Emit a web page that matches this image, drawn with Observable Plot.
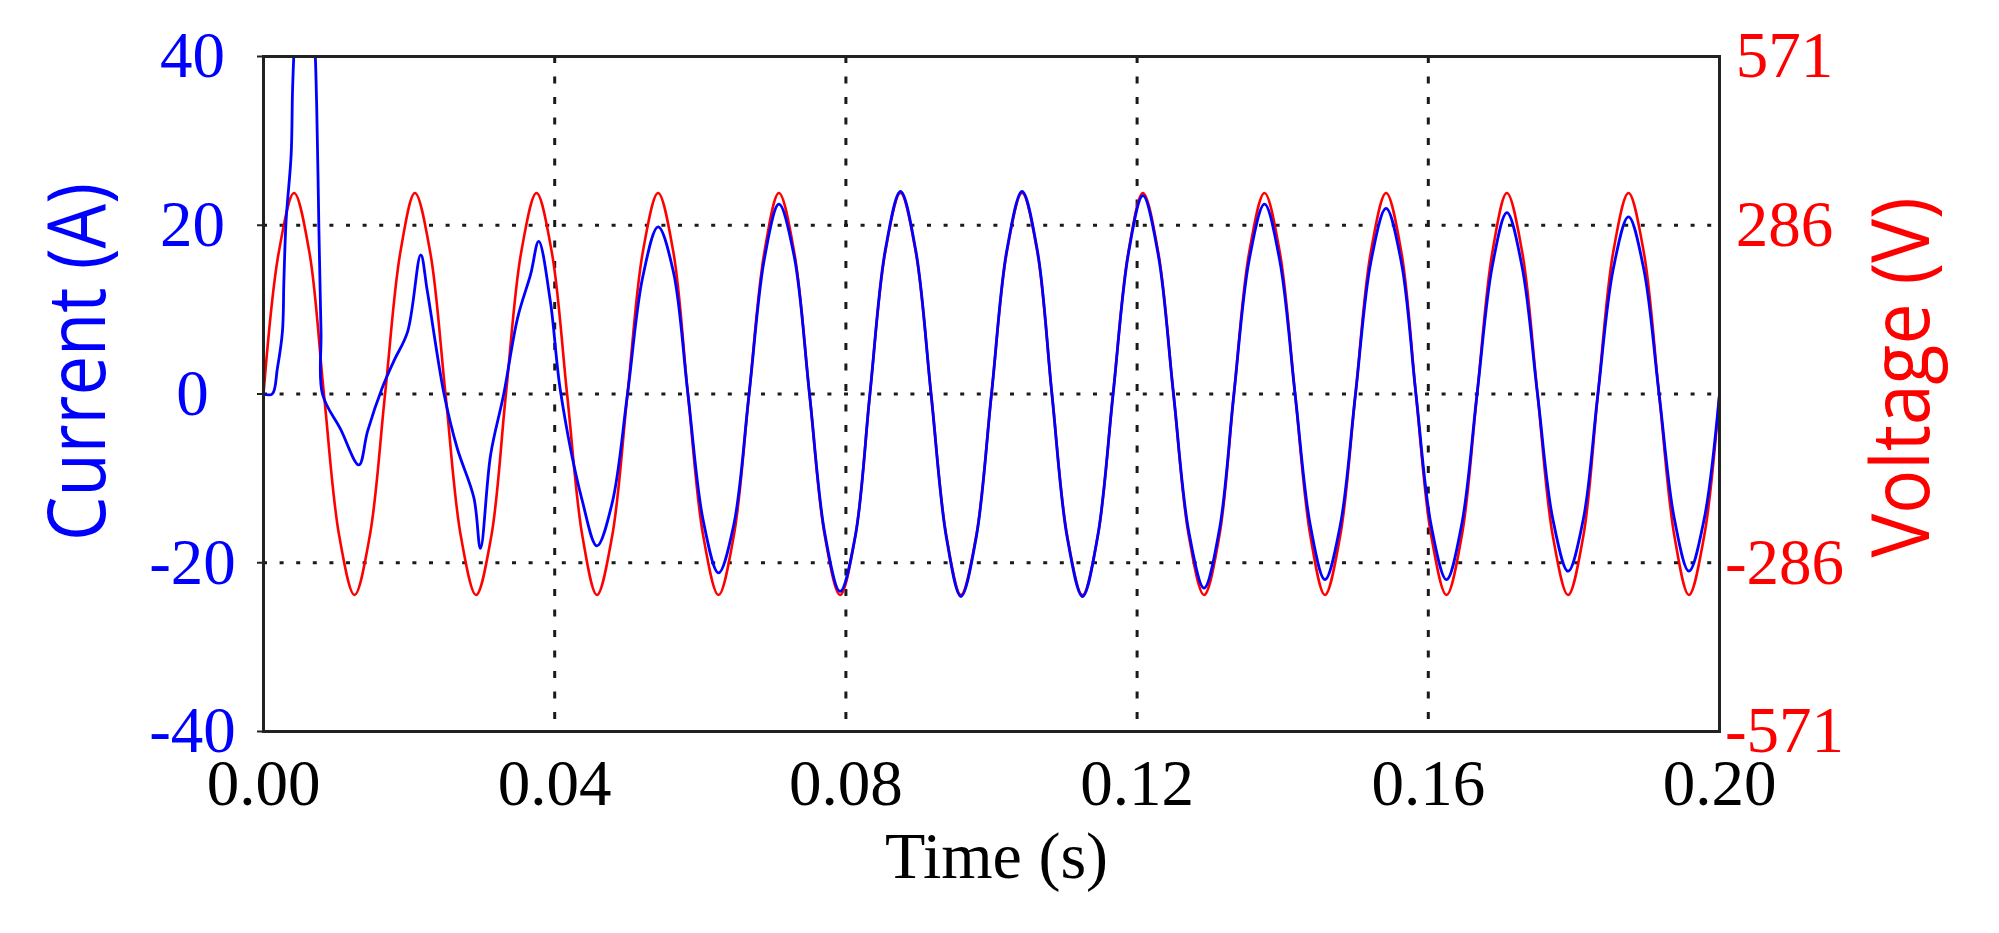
<!DOCTYPE html>
<html><head><meta charset="utf-8">
<script src="https://cdn.jsdelivr.net/npm/d3@7"></script>
<script src="https://cdn.jsdelivr.net/npm/@observablehq/plot@0.6"></script>
<style>body{margin:0;background:#fff}</style>
</head><body><div id="chart"></div>
<script>
// ---- data ----
const timeTicks = [0, 0.04, 0.08, 0.12, 0.16, 0.20];
const timeGrid = [0.04, 0.08, 0.12, 0.16];
const currentTicks = [40, 20, 0, -20, -40];
const currentGrid = [20, 0, -20];
const voltageTicks = [571, 286, -286, -571];
const currentMax = 40;
const voltageMax = 571;

const voltTime = [0.0000,0.0021,0.0042,0.0063,0.0083,0.0104,0.0125,0.0146,0.0167,0.0188,0.0208,0.0229,0.0250,0.0271,0.0292,0.0313,0.0333,0.0354,0.0375,0.0396,0.0417,0.0438,0.0458,0.0479,0.0500,0.0521,0.0542,0.0563,0.0583,0.0604,0.0625,0.0646,0.0667,0.0688,0.0708,0.0729,0.0750,0.0771,0.0792,0.0813,0.0833,0.0854,0.0875,0.0896,0.0917,0.0938,0.0958,0.0979,0.1000,0.1021,0.1042,0.1063,0.1083,0.1104,0.1125,0.1146,0.1167,0.1188,0.1208,0.1229,0.1250,0.1271,0.1292,0.1313,0.1333,0.1354,0.1375,0.1396,0.1417,0.1438,0.1458,0.1479,0.1500,0.1521,0.1542,0.1563,0.1583,0.1604,0.1625,0.1646,0.1667,0.1688,0.1708,0.1729,0.1750,0.1771,0.1792,0.1813,0.1833,0.1854,0.1875,0.1896,0.1917,0.1938,0.1958,0.1979,0.2000];
const voltValue = [0,240,340,240,0,-240,-340,-240, 0,240,340,240,0,-240,-340,-240, 0,240,340,240,0,-240,-340,-240, 0,240,340,240,0,-240,-340,-240, 0,240,340,240,0,-240,-340,-240, 0,240,340,240,0,-240,-340,-240, 0,240,340,240,0,-240,-340,-240, 0,240,340,240,0,-240,-340,-240, 0,240,340,240,0,-240,-340,-240, 0,240,340,240,0,-240,-340,-240, 0,240,340,240,0,-240,-340,-240, 0,240,340,240,0,-240,-340,-240, 0];

const currTime = [0.0000,0.0012,0.0019,0.0026,0.0028,0.0031,0.0038,0.0040,0.0044,0.0056,0.0069,0.0073,0.0076,0.0079,0.0081,0.0106,0.0131,0.0143,0.0163,0.0179,0.0198,0.0216,0.0225,0.0248,0.0266,0.0289,0.0298,0.0312,0.0330,0.0349,0.0367,0.0378,0.0394,0.0408,
0.0438,0.0458,0.0479,0.0500,0.0521,0.0542,0.0563,0.0583,0.0604,0.0625,0.0646,0.0667,0.0688,0.0708,0.0729,0.0750,0.0771,0.0792,0.0813,0.0833,0.0854,0.0875,0.0896,0.0917,0.0938,0.0958,0.0979,0.1000,0.1021,0.1042,0.1063,0.1083,0.1104,0.1125,0.1146,0.1167,0.1188,0.1208,0.1229,0.1250,0.1271,0.1292,0.1313,0.1333,0.1354,0.1375,0.1396,0.1417,0.1438,0.1458,0.1479,0.1500,0.1521,0.1542,0.1563,0.1583,0.1604,0.1625,0.1646,0.1667,0.1688,0.1708,0.1729,0.1750,0.1771,0.1792,0.1813,0.1833,0.1854,0.1875,0.1896,0.1917,0.1938,0.1958,0.1979,0.2000];
const currValue = [0,0,3,7.4,13.4,20.5,28.4,36.3,44,55,44,34.4,20,7.4,0,-4.2,-8.4,-4.4,0.7,3.9,7.4,16.5,12.2,0,-6.4,-12.3,-18.3,-7.2,0,9.0,14.2,18.1,11,0.3,
-12.7,-18,-12.9,0,13.9,19.8,14.5,0,-15,-21.2,-15.5,0,16,22.5,16.3,0,-16.5,-23.4,-16.8,0,17,24,17,0,-17,-24,-17,0,17,24,17,0,-17,-24,-16.8,0,16.6,23.5,16.5,0,-16.3,-23,-16.1,0,15.9,22.5,15.8,0,-15.6,-22,-15.6,0,15.6,22,15.6,0,-15.6,-22,-15.4,0,15.2,21.5,15,0,-14.8,-21,-14.8,0,14.8,21,14.8,0,-14.8,-21,-14.8,0];

// ---- tables ----
const voltData = voltTime.map((t, i) => ({t, v: voltValue[i]}));
const currData = currTime.map((t, i) => ({t, a: currValue[i]}));
const toCurrentUnits = v => v * currentMax / voltageMax;

const BLUE = "#0000ff", RED = "#ff0000";
const hyphen = d => String(d);

const chart = Plot.plot({
  width: 1999,
  height: 933,
  marginLeft: 263,
  marginRight: 280,
  marginTop: 56,
  marginBottom: 202,
  style: {background: "white", fontFamily: "'Liberation Serif', 'Times New Roman', serif"},
  x: {domain: [0, 0.2]},
  y: {domain: [-currentMax, currentMax]},
  marks: [
    Plot.ruleY(currentGrid, {stroke: "#1a1a1a", strokeWidth: 3, strokeDasharray: "4,12.6"}),
    Plot.ruleX(timeGrid, {stroke: "#1a1a1a", strokeWidth: 3, strokeDasharray: "7,13.5"}),
    Plot.line(voltData, {x: "t", y: d => toCurrentUnits(d.v), stroke: RED, strokeWidth: 2.6, curve: "catmull-rom", clip: true}),
    Plot.line(currData, {x: "t", y: "a", stroke: BLUE, strokeWidth: 2.8, curve: "catmull-rom", clip: true}),
    Plot.frame({stroke: "#222", strokeWidth: 3}),
    Plot.axisX(timeTicks, {anchor: "bottom", tickSize: 0, tickPadding: 27, tickFormat: d3.format(".2f"), fontSize: 65, fill: "black", label: null}),
    Plot.axisY(currentTicks, {anchor: "left", tickSize: 6, tickPadding: 65, textAnchor: "middle", tickFormat: hyphen, fontSize: 65, fill: BLUE, stroke: "#222", strokeWidth: 2, label: null}),
    Plot.axisY(voltageTicks.map(toCurrentUnits), {anchor: "right", tickSize: 0, tickPadding: 65, textAnchor: "middle", tickFormat: d => String(Math.round(d * voltageMax / currentMax)), fontSize: 65, fill: RED, label: null}),
    Plot.text(["Time (s)"], {frameAnchor: "bottom", dy: 125, dx: 5, fontSize: 66, lineAnchor: "middle", textAnchor: "middle", fill: "black"}),
    Plot.text(["Current (A)"], {frameAnchor: "left", rotate: -90, dx: -184, dy: -32, fontSize: 80, textAnchor: "middle", lineAnchor: "middle", fontFamily: "'Open Sans', sans-serif", fill: BLUE}),
    Plot.text(["Voltage (V)"], {frameAnchor: "right", rotate: -90, dx: 184, dy: -16.5, fontSize: 80, textAnchor: "middle", lineAnchor: "middle", fontFamily: "'Open Sans', sans-serif", fill: RED})
  ]
});
document.getElementById("chart").appendChild(chart);
const titleLengths = {"Current (A)": 358, "Voltage (V)": 360};
chart.querySelectorAll("text").forEach(t => {
  const len = titleLengths[t.textContent.trim()];
  if (len) { t.setAttribute("textLength", len); t.setAttribute("lengthAdjust", "spacingAndGlyphs"); }
});
</script>
</body></html>
